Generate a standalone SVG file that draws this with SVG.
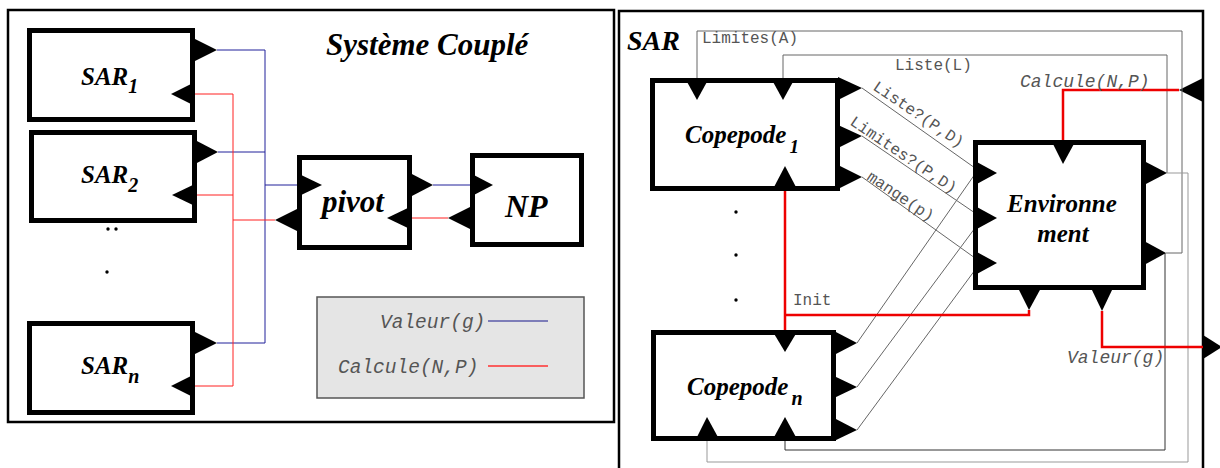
<svg xmlns="http://www.w3.org/2000/svg" width="1220" height="468" viewBox="0 0 1220 468">
<style>
.frame{fill:none;stroke:#000;stroke-width:2.5}
.box{fill:#fff;stroke:#000;stroke-width:5}
.port{fill:#000}
.ttl{font-family:"Liberation Serif","Times New Roman",serif;font-weight:bold;font-style:italic;fill:#000}
.lbl{font-family:"Liberation Mono","Courier New",monospace;fill:#555;font-size:16px}
.ilbl{font-family:"Liberation Mono","Courier New",monospace;fill:#555;font-style:italic}
.blue{stroke:#20209a;stroke-width:1;fill:none}
.red{stroke:#ff2020;stroke-width:1;fill:none}
.redT{stroke:#ee0000;stroke-width:2.5;fill:none}
.g1{stroke:#666;stroke-width:1;fill:none}
.g2{stroke:#999;stroke-width:1;fill:none}
.g3{stroke:#333;stroke-width:1;fill:none}
.dot{fill:#000}
</style>
<rect width="1220" height="468" fill="#fff"/>
<!-- Left panel -->
<g id="systeme-couple">
<rect class="frame" x="8" y="10" width="606" height="412"/>
<text class="ttl" x="326" y="55" font-size="31">Système Couplé</text>
</g>
<g id="connectors-left">
<path class="blue" d="M217,50 H265 V343 H217 M218,152 H265 M265,185 H297"/>
<path class="red" d="M195,94 H233 V386 H195 M197,195 H233 M233,220 H275"/>
<path class="blue" d="M433,185 H470"/>
<path class="red" d="M412,218 H448"/>
</g>
<g id="sar1">
<rect class="box" x="29.5" y="30.5" width="163" height="89"/>
<polygon class="port" points="193,38 217,50 193,62"/>
<polygon class="port" points="195,82 171,94 195,106"/>
<text class="ttl" x="81" y="85" font-size="25">SAR<tspan font-size="20" dy="8">1</tspan></text>
</g>
<g id="sar2">
<rect class="box" x="31.5" y="132.5" width="163" height="88"/>
<polygon class="port" points="195,140 218,152 195,164"/>
<polygon class="port" points="197,183 172,195 197,207"/>
<text class="ttl" x="81" y="183" font-size="25">SAR<tspan font-size="20" dy="9">2</tspan></text>
</g>
<g id="dots-left">
<circle class="dot" cx="108" cy="229" r="1.7"/>
<circle class="dot" cx="116" cy="229" r="1.7"/>
<circle class="dot" cx="107" cy="272" r="1.7"/>
</g>
<g id="sarn">
<rect class="box" x="29.5" y="323.5" width="163" height="89"/>
<polygon class="port" points="193,331 217,343 193,355"/>
<polygon class="port" points="195,374 171,386 195,398"/>
<text class="ttl" x="81" y="374" font-size="25">SAR<tspan font-size="20" dy="9">n</tspan></text>
</g>
<g id="pivot">
<rect class="box" x="299.5" y="157.5" width="110" height="90"/>
<polygon class="port" points="297,173 322,185 297,197"/>
<polygon class="port" points="299,208 275,220 299,232"/>
<polygon class="port" points="410,173 433,185 410,197"/>
<polygon class="port" points="412,206 387,218 412,230"/>
<text class="ttl" x="322" y="212" font-size="31">pivot</text>
</g>
<g id="np">
<rect class="box" x="472.5" y="155.5" width="109" height="89"/>
<polygon class="port" points="470,173 493,185 470,197"/>
<polygon class="port" points="472,206 448,218 472,230"/>
<text class="ttl" x="505" y="217" font-size="32">NP</text>
</g>
<g id="legend">
<rect x="317" y="297" width="267" height="101" fill="#e5e5e5" stroke="#555" stroke-width="1.5"/>
<text class="ilbl" x="380" y="328" font-size="19.5">Valeur(g)</text>
<line x1="488" y1="321" x2="548" y2="321" stroke="#5a5aa8" stroke-width="1.5"/>
<text class="ilbl" x="338" y="373" font-size="19.5">Calcule(N,P)</text>
<line x1="488" y1="366" x2="548" y2="366" stroke="#ff3030" stroke-width="1.5"/>
</g>
<!-- Right panel -->
<g id="sar">
<path class="frame" d="M619,470 V11 H1203 V470"/>
<text class="ttl" x="627" y="50" font-size="28">SAR</text>
<polygon class="port" points="1203,78 1179,90 1203,102"/>
<polygon class="port" points="1203,335 1222,347 1203,359"/>
</g>
<g id="connectors-right">
<path class="g1" d="M697,80 V31 H1182 V253 H1166"/>
<path class="g1" d="M783,80 V55 H1167 V173"/>
<path class="g2" d="M1167,173 H1188 V462 H707 V441"/>
<path class="g3" d="M1165,253 V450 H785 V441"/>
<path class="g1" d="M862,88 L975,168 M862,136 L975,213 M862,177 L975,258"/>
<path class="g1" d="M857,343 L975,174 M857,387 L975,228 M857,430 L975,270"/>
<path class="redT" d="M1179,90 H1063 V142"/>
<path class="redT" d="M1029,310 V315 H785 M785,191 V332"/>
<path class="redT" d="M1102,311 V347 H1203"/>
<text class="lbl" x="702" y="43">Limites(A)</text>
<text class="lbl" x="895" y="70">Liste(L)</text>
<text class="lbl" transform="translate(872,89) rotate(34)">Liste?(P,D)</text>
<text class="lbl" transform="translate(849,124) rotate(34)">Limites?(P,D)</text>
<text class="lbl" transform="translate(866,179) rotate(34)">mange(p)</text>
<text class="lbl" x="793" y="305">Init</text>
<text class="ilbl" x="1020" y="87" font-size="18">Calcule(N,P)</text>
<text class="ilbl" x="1067" y="363" font-size="18">Valeur(g)</text>
</g>
<g id="copepode1">
<rect class="box" x="652.5" y="80.5" width="185" height="108"/>
<polygon class="port" points="686,80 697,100 708,80"/>
<polygon class="port" points="772,80 783,100 794,80"/>
<polygon class="port" points="838,77 862,88 838,100"/>
<polygon class="port" points="838,125 862,136 838,148"/>
<polygon class="port" points="838,165 862,177 838,189"/>
<polygon class="port" points="773,189 785,166 797,189"/>
<text class="ttl" x="685" y="143" font-size="25">Copepode<tspan font-size="19" dx="3" dy="10">1</tspan></text>
</g>
<g id="dots-right">
<circle class="dot" cx="736" cy="212" r="1.7"/>
<circle class="dot" cx="736" cy="255" r="1.7"/>
<circle class="dot" cx="736" cy="300" r="1.7"/>
</g>
<g id="copepoden">
<rect class="box" x="653.5" y="332.5" width="180" height="106"/>
<polygon class="port" points="773,332 785,352 797,332"/>
<polygon class="port" points="696,439 707,417 719,439"/>
<polygon class="port" points="773,439 785,417 797,439"/>
<polygon class="port" points="834,331 857,343 834,355"/>
<polygon class="port" points="834,376 857,387 834,398"/>
<polygon class="port" points="834,418 857,430 834,441"/>
<text class="ttl" x="687" y="395" font-size="25">Copepode<tspan font-size="20" dx="3" dy="10">n</tspan></text>
</g>
<g id="environnement">
<rect class="box" x="975.5" y="142.5" width="168" height="145"/>
<polygon class="port" points="1052,142 1063,164 1075,142"/>
<polygon class="port" points="975,161 997,173 975,185"/>
<polygon class="port" points="975,206 997,218 975,230"/>
<polygon class="port" points="975,251 997,263 975,275"/>
<polygon class="port" points="1144,161 1167,173 1144,185"/>
<polygon class="port" points="1144,241 1166,253 1144,265"/>
<polygon class="port" points="1018,288 1029,310 1041,288"/>
<polygon class="port" points="1091,288 1102,311 1113,288"/>
<text class="ttl" x="1062" y="212" font-size="25" text-anchor="middle">Environne</text>
<text class="ttl" x="1063" y="242" font-size="25" text-anchor="middle">ment</text>
</g>
</svg>
